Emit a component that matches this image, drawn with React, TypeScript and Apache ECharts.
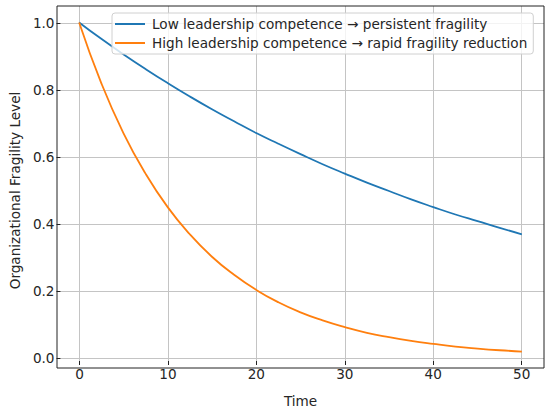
import React, { useEffect, useRef } from "react";
import * as echarts from "echarts";

const timePoints = [0, 2.5, 5, 7.5, 10, 12.5, 15, 17.5, 20, 22.5, 25, 27.5, 30, 32.5, 35, 37.5, 40, 42.5, 45, 47.5, 50];
const lowCompetence = [1.0, 0.951, 0.905, 0.861, 0.819, 0.779, 0.741, 0.705, 0.67, 0.638, 0.607, 0.577, 0.549, 0.522, 0.497, 0.472, 0.449, 0.427, 0.407, 0.387, 0.368];
const highCompetence = [1.0, 0.819, 0.67, 0.549, 0.449, 0.368, 0.301, 0.247, 0.202, 0.165, 0.135, 0.111, 0.091, 0.074, 0.061, 0.05, 0.041, 0.033, 0.027, 0.022, 0.018];
const seriesNames = [
  "Low leadership competence → persistent fragility",
  "High leadership competence → rapid fragility reduction",
];
const xTicks = [0, 10, 20, 30, 40, 50];
const yTicks = [0, 0.2, 0.4, 0.6, 0.8, 1.0];

const FONT = "DejaVu Sans";
const FS = 13.6;

export default function App() {
  const ref = useRef<HTMLDivElement>(null);
  useEffect(() => {
    if (!ref.current) return;
    const chart = echarts.init(ref.current, undefined, { renderer: "svg" });
    const labelStyle = { fontFamily: FONT, fontSize: FS, color: "#262626" };
    chart.setOption({
      animation: false,
      backgroundColor: "#fff",
      textStyle: { fontFamily: FONT },
      grid: [
        { left: 57, right: 6, top: 6, bottom: 45, show: true, borderColor: "#222", borderWidth: 1, backgroundColor: "transparent", z: 5 },
        { left: 79.5, right: 28.3, top: 6, bottom: 45 },
        { left: 57, right: 6, top: 23, bottom: 55 },
      ],
      xAxis: [
        { gridIndex: 0, type: "value", min: -2.5, max: 52.5, show: false },
        {
          gridIndex: 1, type: "value", min: xTicks[0], max: xTicks[xTicks.length - 1], interval: 10,
          axisLine: { show: false },
          axisTick: { show: true, length: 4, lineStyle: { color: "#222", width: 1 } },
          axisLabel: { ...labelStyle, margin: 6 },
          splitLine: { show: true, lineStyle: { color: "#c4c4c4", width: 1 } },
          name: "Time", nameLocation: "middle", nameGap: 33,
          nameTextStyle: { fontFamily: FONT, fontSize: FS, color: "#262626" },
        },
        { gridIndex: 2, type: "value", min: 0, max: 1, show: false },
      ],
      yAxis: [
        { gridIndex: 0, type: "value", min: -0.031, max: 1.049, show: false },
        { gridIndex: 1, type: "value", min: 0, max: 1, show: false },
        {
          gridIndex: 2, type: "value", min: yTicks[0], max: yTicks[yTicks.length - 1], interval: 0.2,
          axisLine: { show: false },
          axisTick: { show: true, length: 4, lineStyle: { color: "#222", width: 1 } },
          axisLabel: { ...labelStyle, margin: 6, formatter: (v: number) => v.toFixed(1) },
          splitLine: { show: true, lineStyle: { color: "#c4c4c4", width: 1 } },
          name: "Organizational Fragility Level", nameLocation: "middle", nameGap: 38,
          nameTextStyle: { fontFamily: FONT, fontSize: FS, color: "#262626" },
        },
      ],
      legend: {
        left: 112, top: 13, orient: "vertical",
        backgroundColor: "rgba(255,255,255,0.8)", borderColor: "#d0d0d0", borderWidth: 1, borderRadius: 3,
        padding: [4, 6, 4, 3], itemGap: 5,
        itemWidth: 30, itemHeight: 2, icon: "rect",
        textStyle: { fontFamily: FONT, fontSize: FS, color: "#262626", padding: [0, 0, 0, 2] },
        data: seriesNames,
      },
      series: [
        {
          name: seriesNames[0], type: "line", xAxisIndex: 0, yAxisIndex: 0, showSymbol: false, smooth: true,
          data: timePoints.map((t, i) => [t, lowCompetence[i]]),
          lineStyle: { color: "#1f77b4", width: 1.8 }, itemStyle: { color: "#1f77b4" }, z: 3,
        },
        {
          name: seriesNames[1], type: "line", xAxisIndex: 0, yAxisIndex: 0, showSymbol: false, smooth: true,
          data: timePoints.map((t, i) => [t, highCompetence[i]]),
          lineStyle: { color: "#ff7f0e", width: 1.8 }, itemStyle: { color: "#ff7f0e" }, z: 3,
        },
      ],
    });
    return () => chart.dispose();
  }, []);
  return <div ref={ref} style={{ width: 550, height: 413, position: "absolute", left: 0, top: 0 }} />;
}
